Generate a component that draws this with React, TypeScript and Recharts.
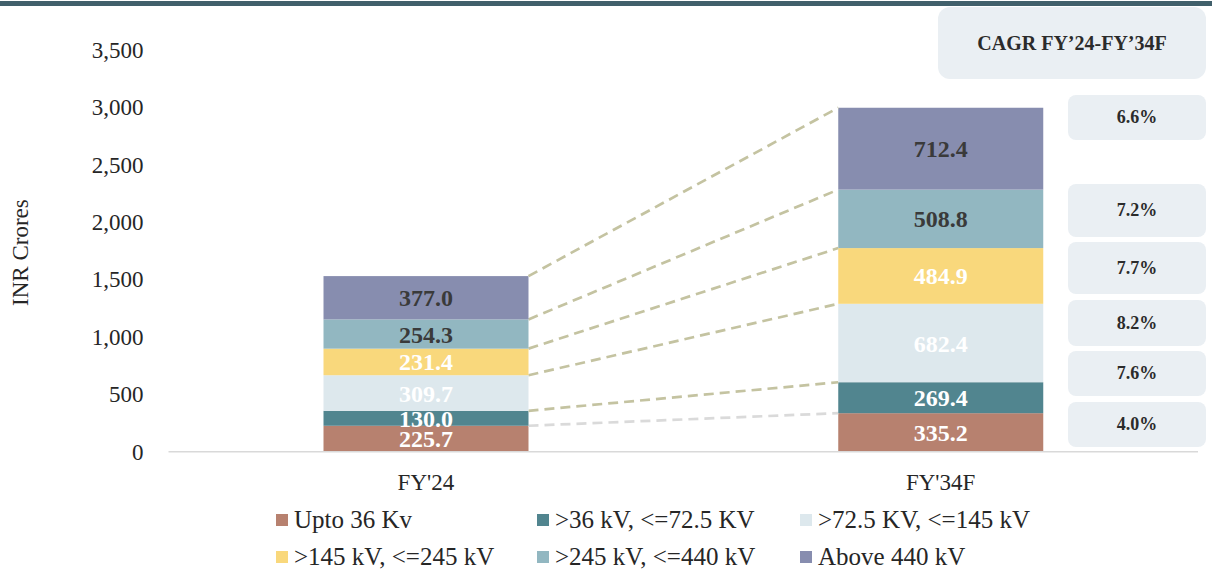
import React from 'react';
import { BarChart, Bar, XAxis, YAxis, LabelList, Legend } from 'recharts';

const FONT = '"Liberation Serif", "Times New Roman", serif';

// categories
const YEARS = ["FY'24", "FY'34F"];

// series values (INR Crores), one entry per year
const UPTO_36 = [225.7, 335.2];
const KV_36_72 = [130.0, 269.4];
const KV_72_145 = [309.7, 682.4];
const KV_145_245 = [231.4, 484.9];
const KV_245_440 = [254.3, 508.8];
const ABOVE_440 = [377.0, 712.4];

const Y_TICKS = [0, 500, 1000, 1500, 2000, 2500, 3000, 3500];

// CAGR boxes, top to bottom
const CAGR_TITLE = 'CAGR FY’24-FY’34F';
const CAGR_VALUES = ['6.6%', '7.2%', '7.7%', '8.2%', '7.6%', '4.0%'];
const CAGR_BOX_TOP = [95, 184, 242, 300, 351, 402];
const CAGR_BOX_H = [45, 53, 52, 46, 45, 45];

const SERIES = [
  { key: 's0', name: 'Upto 36 Kv', values: UPTO_36, color: '#b7816f', text: '#ffffff', line: '#dadada' },
  { key: 's1', name: '>36 kV, <=72.5 KV', values: KV_36_72, color: '#51858f', text: '#ffffff', line: '#c4c3a1' },
  { key: 's2', name: '>72.5 KV, <=145 kV', values: KV_72_145, color: '#dde8ed', text: '#ffffff', line: '#c4c3a1' },
  { key: 's3', name: '>145 kV, <=245 kV', values: KV_145_245, color: '#f9d87c', text: '#ffffff', line: '#c4c3a1' },
  { key: 's4', name: '>245 kV, <=440 kV', values: KV_245_440, color: '#92b7c1', text: '#3a3a3a', line: '#c4c3a1' },
  { key: 's5', name: 'Above 440 kV', values: ABOVE_440, color: '#878daf', text: '#3a3a3a', line: '#c4c3a1' },
];

const data = YEARS.map((year, i) => {
  const row: any = { year };
  SERIES.forEach((s) => { row[s.key] = s.values[i]; });
  return row;
});

// top-right corner of each FY'24 segment, filled while the bars render
const edges: Record<string, { x: number; y: number }> = {};

const makeShape = (key: string, lineColor: string) => (props: any) => {
  const { x, y, width, height, fill, index } = props;
  const rect = <rect x={x} y={y} width={width} height={height} fill={fill} />;
  if (index === 0) {
    edges[key] = { x: x + width, y };
    return rect;
  }
  const from = edges[key];
  return (
    <g>
      {rect}
      {from && (
        <line x1={from.x} y1={from.y} x2={x} y2={y} stroke={lineColor} strokeWidth={2.7} strokeDasharray="10 6" />
      )}
    </g>
  );
};

const LEGEND_COL_X = [276, 537, 800];
const LEGEND_ROW_Y = [0, 37];

const renderLegend = () => (
  <div style={{ position: 'relative', width: 1212, height: 70 }}>
    {SERIES.map((s, i) => (
      <div
        key={s.key}
        style={{
          position: 'absolute',
          left: LEGEND_COL_X[i % 3],
          top: LEGEND_ROW_Y[Math.floor(i / 3)],
          height: 26,
          display: 'flex',
          alignItems: 'center',
          whiteSpace: 'nowrap',
          fontFamily: FONT,
          fontSize: 25,
          color: '#262626',
        }}
      >
        <span style={{ width: 12, height: 12, background: s.color, marginRight: 6, display: 'inline-block' }} />
        {s.name}
      </div>
    ))}
  </div>
);

const YLabel = ({ viewBox }: any) => {
  const cx = viewBox.x + 21;
  const cy = viewBox.y + viewBox.height / 2 + 2;
  return (
    <text x={cx} y={cy} transform={`rotate(-90 ${cx} ${cy})`} textAnchor="middle" dominantBaseline="central"
      fontFamily={FONT} fontSize={23} fill="#262626">
      INR Crores
    </text>
  );
};

export default function App() {
  return (
    <div style={{ position: 'absolute', left: 0, top: 0, width: 1212, height: 572, background: '#fff', overflow: 'hidden' }}>
      <div style={{ position: 'absolute', left: 0, top: 1, width: 1212, height: 5, background: '#41606b' }} />

      <BarChart
        width={1212}
        height={572}
        data={data}
        margin={{ top: 49.5, right: 14, bottom: 80.3, left: 0 }}
        style={{ fontFamily: FONT }}
      >
        <XAxis
          dataKey="year"
          height={40}
          axisLine={{ stroke: '#d9d9d9', strokeWidth: 1.5 }}
          tickLine={false}
          tickMargin={16}
          tick={{ fill: '#262626', fontSize: 23, fontFamily: FONT }}
        />
        <YAxis
          width={168.5}
          domain={[0, 3500]}
          ticks={Y_TICKS}
          axisLine={false}
          tickLine={false}
          tickMargin={19}
          tick={{ fill: '#262626', fontSize: 23, fontFamily: FONT }}
          tickFormatter={(v: number) => v.toLocaleString('en-US')}
          label={<YLabel />}
        />
        <Legend
          layout="horizontal"
          verticalAlign="middle"
          align="center"
          wrapperStyle={{ top: 507, left: 0, width: 1212, height: 70 }}
          content={renderLegend}
        />
        {SERIES.map((s) => (
          <Bar
            key={s.key}
            dataKey={s.key}
            name={s.name}
            stackId="a"
            fill={s.color}
            barSize={205}
            isAnimationActive={false}
            shape={makeShape(s.key, s.line)}
          >
            <LabelList
              dataKey={s.key}
              position="center"
              fill={s.text}
              fontSize={24}
              fontWeight="bold"
              fontFamily={FONT}
              formatter={(v: any) => Number(v).toFixed(1)}
            />
          </Bar>
        ))}
      </BarChart>

      <div
        style={{
          position: 'absolute', left: 938, top: 7, width: 268, height: 72, borderRadius: 12,
          background: '#eaeff3', display: 'flex', alignItems: 'center', justifyContent: 'center',
          fontFamily: FONT, fontWeight: 'bold', fontSize: 20, color: '#2b2b2b',
        }}
      >
        {CAGR_TITLE}
      </div>
      {CAGR_VALUES.map((v, i) => (
        <div
          key={i}
          style={{
            position: 'absolute', left: 1068, top: CAGR_BOX_TOP[i], width: 138, height: CAGR_BOX_H[i], borderRadius: 8,
            background: '#eaeff3', display: 'flex', alignItems: 'center', justifyContent: 'center',
            fontFamily: FONT, fontWeight: 'bold', fontSize: 18, color: '#2b2b2b',
          }}
        >
          {v}
        </div>
      ))}
    </div>
  );
}
